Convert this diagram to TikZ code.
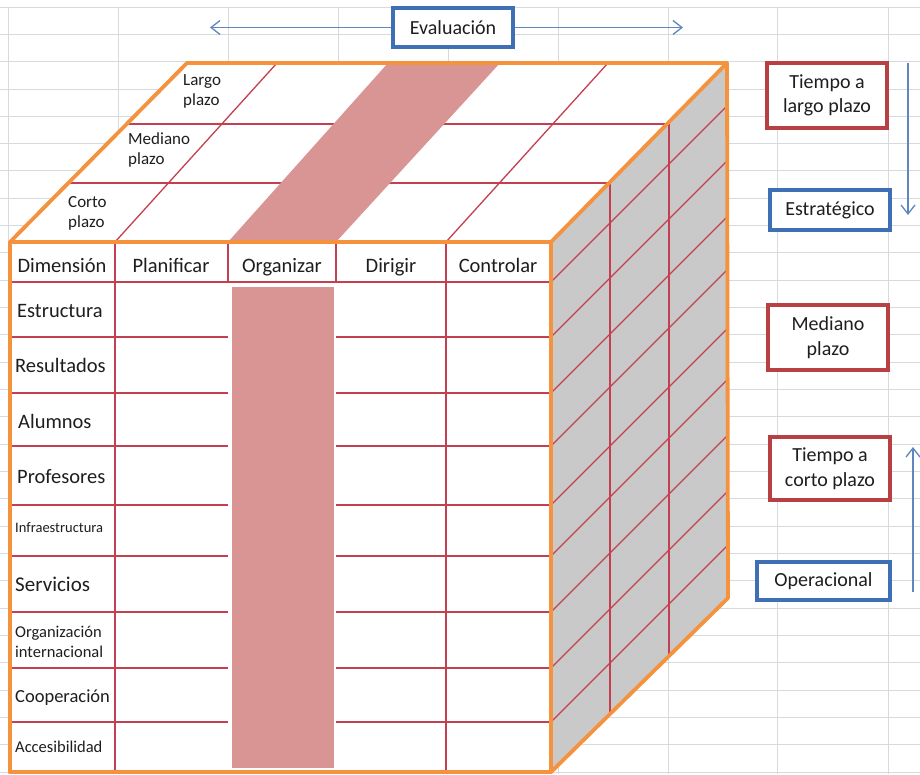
\documentclass[tikz,border=0pt]{standalone}
\usepackage{fontspec}
\setmainfont{Carlito}
\usetikzlibrary{arrows.meta}
\definecolor{gridc}{RGB}{214,217,222}
\definecolor{edgeor}{RGB}{245,146,62}
\definecolor{cellred}{RGB}{196,64,80}
\definecolor{rose}{RGB}{217,148,148}
\definecolor{sidegray}{RGB}{201,201,201}
\definecolor{boxblue}{RGB}{63,111,180}
\definecolor{boxred}{RGB}{185,64,66}
\definecolor{arrowblue}{RGB}{95,135,190}
\definecolor{ink}{RGB}{30,30,30}

\begin{document}
\begin{tikzpicture}[x=1pt,y=-1pt,
  sheet/.style={gridc, line width=0.9pt},
  cell/.style={cellred, line width=1.3pt},
  edge/.style={edgeor, line width=3.8pt, line join=round, line cap=round},
  lab/.style={inner sep=0pt, text=ink, font=\fontsize{20.5}{24}\selectfont},
  depth/.style={inner sep=0pt, text=ink, align=left, font=\fontsize{17}{20}\selectfont},
  tag/.style={draw, line width=3.4pt, fill=white, inner sep=0pt, align=center,
    text=ink, minimum width=120pt, font=\fontsize{20}{24.5}\selectfont},
  bluetag/.style={tag, draw=boxblue, minimum height=39pt},
  redtag/.style={tag, draw=boxred, minimum height=65pt},
  flow/.style={arrowblue, line width=1.3pt, -{Straight Barb[length=9pt,width=14pt]}}
]
\useasboundingbox (0,0) rectangle (920,774);
\fill[white] (0,0) rectangle (920,774);

% spreadsheet grid behind the cube
\foreach \k in {0,...,28} \draw[sheet] (0,{7+27.32*\k}) -- (920,{7+27.32*\k});
\foreach \x in {8,118,228,338,448,558,668,777,888} \draw[sheet] (\x,7) -- (\x,774);

% faces of the cube
\fill[white] (10,242) -- (187,63) -- (727,63) -- (551,242) -- cycle;
\fill[sidegray] (551,242) -- (727,63) -- (728,598) -- (551,772) -- cycle;
\fill[white] (10,242) rectangle (551,772);

% front face cells
\draw[cell] (10,282) -- (551,282);
\foreach \y in {337,393,446,505,556,612,668,722} {
  \draw[cell] (10,\y) -- (228,\y);
  \draw[cell] (336,\y) -- (551,\y);
}
\foreach \x in {228,336} \draw[cell] (\x,242) -- (\x,282);
\foreach \x in {115,446} \draw[cell] (\x,242) -- (\x,772);

% top face cells
\draw[cell] (69,183) -- (610,183);
\draw[cell] (128,124) -- (669,124);
\draw[cell] (115,242) -- (277,63);
\draw[cell] (446,242) -- (608,63);

% right face cells
\draw[cell] (610,183) -- (610,713);
\draw[cell] (669,124) -- (669,654);
\foreach \y in {282,337,393,446,505,556,612,668,722}
  \draw[cell] (551,\y) -- (727,{\y-176});

% highlighted "Organizar" band
\fill[rose] (228,242) -- (388,63) -- (500,63) -- (336,242) -- cycle;
\fill[rose] (232,287) rectangle (334,768);

% cube edges
\draw[edge] (10,242) rectangle (551,772);
\draw[edge] (10,242) -- (187,63) -- (727,63) -- (551,242);
\draw[edge] (727,63) -- (728,598) -- (551,772);

% column headers, set on a common baseline
\node[lab, anchor=base] (hdim) at (62,272) {Dimensión};
\node[lab, anchor=base] (hpla) at (171,272) {Planificar};
\node[lab, anchor=base] (horg) at (282,272) {Organizar};
\node[lab, anchor=base] (hdir) at (391,272) {Dirigir};
\node[lab, anchor=base] (hcon) at (498,272) {Controlar};

% dimension rows
\node[lab, anchor=base west] (rest) at (17,317) {Estructura};
\node[lab, anchor=base west] (rres) at (15,372) {Resultados};
\node[lab, anchor=base west] (ralu) at (18,428) {Alumnos};
\node[lab, anchor=base west] (rpro) at (17,483) {Profesores};
\node[lab, anchor=base west, font=\fontsize{14.5}{17}\selectfont] (rinf) at (15,532) {Infraestructura};
\node[lab, anchor=base west, font=\fontsize{21}{24}\selectfont] (rser) at (15,591) {Servicios};
\node[lab, anchor=west, align=left, font=\fontsize{16.5}{19.5}\selectfont] (rint) at (15,642) {Organización\\internacional};
\node[lab, anchor=base west, font=\fontsize{18.5}{22}\selectfont] (rcoo) at (15,702) {Cooperación};
\node[lab, anchor=base west, font=\fontsize{16.5}{20}\selectfont] (racc) at (15,752) {Accesibilidad};

% depth labels on the top face
\node[depth, anchor=west] (dlar) at (183,91) {Largo\\plazo};
\node[depth, anchor=west] (dmed) at (128,150) {Mediano\\plazo};
\node[depth, anchor=west] (dcor) at (68,213) {Corto\\plazo};

% evaluation axis
\node[bluetag] (eval) at (453,27.5) {Evaluación};
\coordinate (evl) at (210,27.5);
\coordinate (evr) at (683,27.5);
\draw[flow] (eval.west) -- (evl);
\draw[flow] (eval.east) -- (evr);

% time horizon boxes
\node[redtag] (tlar) at (827,95.5) {Tiempo a\\largo plazo};
\node[bluetag, minimum height=40pt] (estr) at (830,210) {Estratégico};
\node[redtag] (tmed) at (828,337.5) {Mediano\\plazo};
\node[redtag, minimum height=63pt] (tcor) at (830,468.5) {Tiempo a\\corto plazo};
\node[bluetag, minimum width=133pt, minimum height=38pt] (oper) at (823.5,581) {Operacional};

% vertical arrows
\coordinate (dtop) at (908,63);
\coordinate (dbot) at (908,215);
\draw[flow] (dtop) -- (dbot);
\coordinate (ubot) at (913,592);
\coordinate (utop) at (913,447);
\draw[flow] (ubot) -- (utop);
\end{tikzpicture}
\end{document}
